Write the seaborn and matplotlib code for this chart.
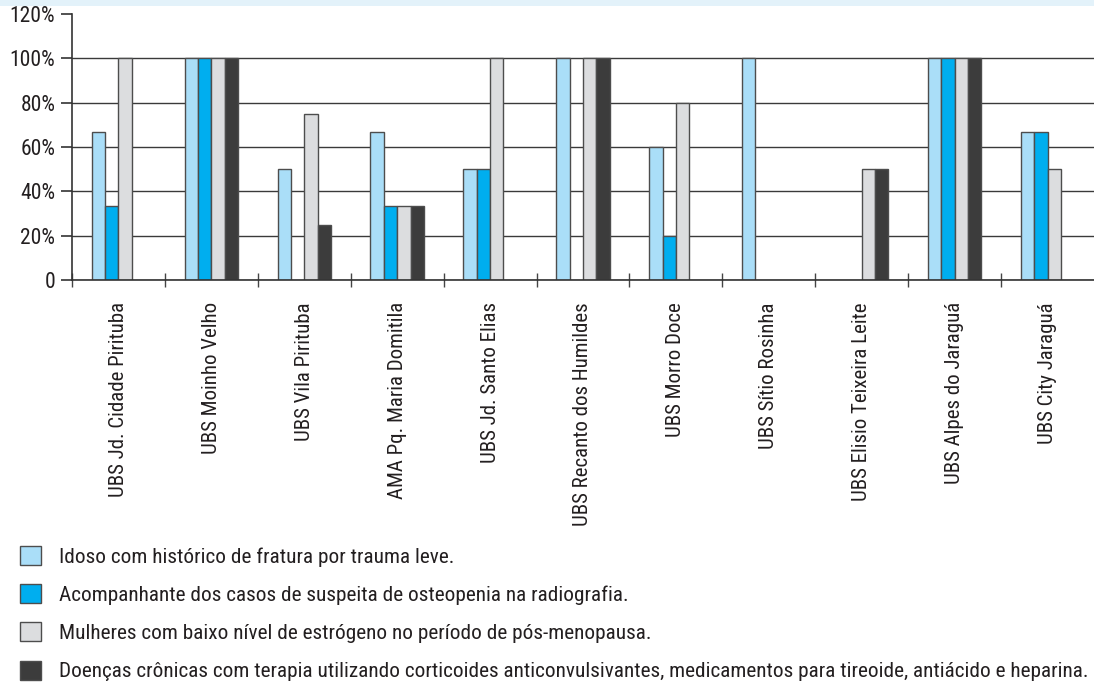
import matplotlib
matplotlib.use("Agg")
import matplotlib.pyplot as plt
from matplotlib.patches import Patch, Rectangle
from matplotlib.ticker import FuncFormatter, FixedLocator
import numpy as np
import pandas as pd
import seaborn as sns

# Unidades de saúde (eixo x)
unidades = [
    "UBS Jd. Cidade Pirituba",
    "UBS Moinho Velho",
    "UBS Vila Pirituba",
    "AMA Pq. Maria Domitila",
    "UBS Jd. Santo Elias",
    "UBS Recanto dos Humildes",
    "UBS Morro Doce",
    "UBS Sítio Rosinha",
    "UBS Elisio Teixeira Leite",
    "UBS Alpes do Jaraguá",
    "UBS City Jaraguá",
]

# Critérios (séries)
criterios = [
    "Idoso com histórico de fratura por trauma leve.",
    "Acompanhante dos casos de suspeita de osteopenia na radiografia.",
    "Mulheres com baixo nível de estrógeno no período de pós-menopausa.",
    "Doenças crônicas com terapia utilizando corticoides anticonvulsivantes, medicamentos para tireoide, antiácido e heparina.",
]

# Percentuais por unidade, um vetor por critério
idoso_fratura = [66.7, 100, 50, 66.7, 50, 100, 60, 100, 0, 100, 66.7]
osteopenia_rx = [33.3, 100, 0, 33.3, 50, 0, 20, 0, 0, 100, 66.7]
pos_menopausa = [100, 100, 75, 33.3, 100, 100, 80, 0, 50, 100, 50]
doencas_cronicas = [0, 100, 25, 33.3, 0, 100, 0, 0, 50, 100, 0]

y_ticks = [0, 20, 40, 60, 80, 100, 120]

cores = ["#aadef8", "#00aeef", "#dcdddf", "#3c3c3c"]

series = [idoso_fratura, osteopenia_rx, pos_menopausa, doencas_cronicas]
df = pd.DataFrame(
    [(u, c, v) for c, vals in zip(criterios, series) for u, v in zip(unidades, vals)],
    columns=["unidade", "criterio", "valor"],
)
df_barras = df[df["valor"] > 0]

sns.set_theme(style="white")
plt.rcParams["font.family"] = ["Roboto Condensed", "Fira Sans Condensed", "DejaVu Sans"]
texto = "#231f20"

fig = plt.figure(figsize=(10.94, 6.84), dpi=100)
ax = fig.add_axes([72 / 1094, 1 - 280 / 684, 1 - 72 / 1094, (280 - 14) / 684])

sns.barplot(
    data=df_barras, x="unidade", y="valor", hue="criterio",
    order=unidades, hue_order=criterios, palette=cores, saturation=1,
    width=0.575, gap=0, errorbar=None, dodge=True,
    edgecolor="#4d4d4d", linewidth=1.0, legend=False, ax=ax,
)

ax.set_xlim(-0.5, len(unidades) - 0.5)
ax.set_ylim(0, 120)
ax.set_xlabel("")
ax.set_ylabel("")

# Eixo y
ax.yaxis.set_major_locator(FixedLocator(y_ticks))
ax.yaxis.set_major_formatter(FuncFormatter(lambda v, _: "0" if v == 0 else f"{v:.0f}%"))
ax.tick_params(axis="y", direction="out", length=8, width=1.2, color="#333333",
               labelsize=15.5, labelcolor=texto, pad=4, left=True)
ax.yaxis.grid(True, color="#3a3a3a", linewidth=1.0)
ax.yaxis.get_gridlines()[-1].set_visible(False)
ax.set_axisbelow(True)

# Eixo x: rótulos verticais e marcas entre grupos
ax.set_xticks(range(len(unidades)))
ax.set_xticklabels(unidades, rotation=90, va="top", ha="center",
                   fontsize=15, color=texto)
ax.tick_params(axis="x", which="major", length=0, pad=16)
ax.set_xticks(np.arange(-0.5, len(unidades) - 0.5, 1.0), minor=True)
ax.tick_params(axis="x", which="minor", direction="inout", length=10, width=1.0,
               color="#444444", bottom=True)

for lado in ["top", "right"]:
    ax.spines[lado].set_visible(False)
for lado in ["left", "bottom"]:
    ax.spines[lado].set_color("#333333")
    ax.spines[lado].set_linewidth(1.2)

# Faixa azul clara no topo
fig.add_artist(Rectangle((0, 1 - 6 / 684), 1, 6 / 684, transform=fig.transFigure,
                         facecolor="#e3f2fa", edgecolor="none"))

# Legenda
handles = [Patch(facecolor=c, edgecolor="#4d4d4d", linewidth=1.0) for c in cores]
fig.legend(
    handles, criterios, loc="upper left",
    bbox_to_anchor=(20 / 1094, 1 - 546 / 684), frameon=False,
    fontsize=15.3, labelcolor=texto, handlelength=1.0, handleheight=1.0,
    handletextpad=0.85, labelspacing=0.82, borderpad=0, borderaxespad=0,
)

fig.savefig("out.png", dpi=100, facecolor="white")
